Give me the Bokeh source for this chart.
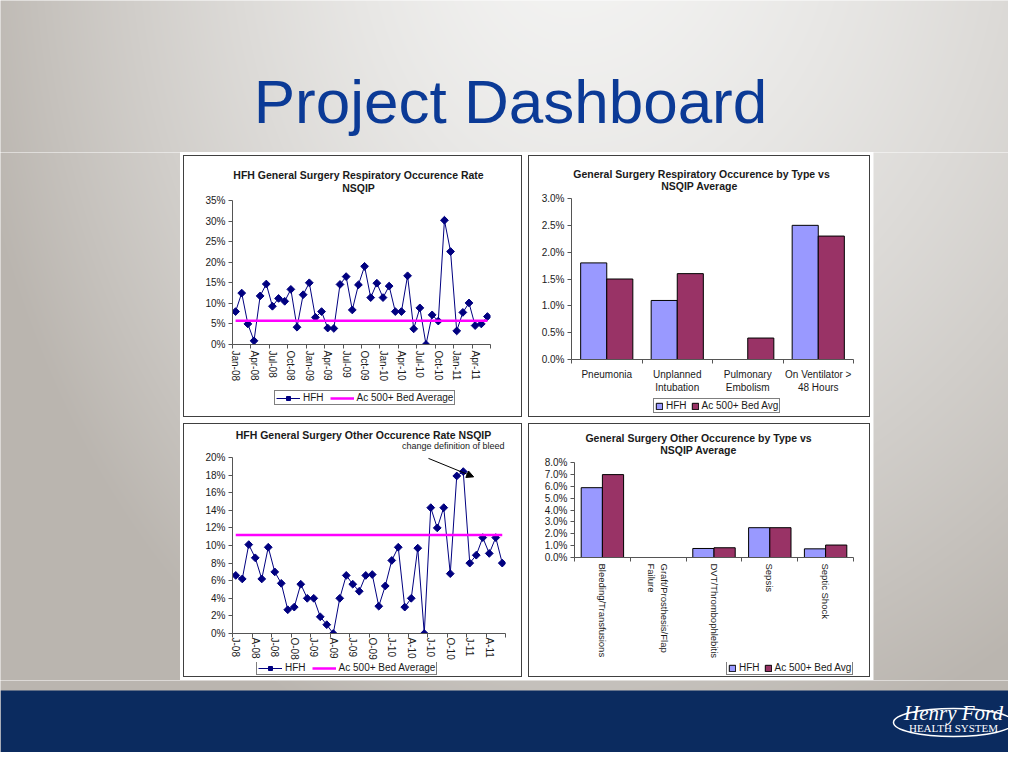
import numpy as np
from bokeh.plotting import figure
from bokeh.layouts import column, row
from bokeh.models import (Range1d, FixedTicker, NumeralTickFormatter, Legend, LegendItem,
                          Arrow, NormalHead)
from bokeh.embed import file_html
from bokeh.resources import INLINE
from bokeh.core.properties import value

FONT = "Liberation Sans"

# ---------------- data ----------------
months = ["Jan-08", "Feb-08", "Mar-08", "Apr-08", "May-08", "Jun-08", "Jul-08", "Aug-08", "Sep-08", "Oct-08", "Nov-08", "Dec-08",
          "Jan-09", "Feb-09", "Mar-09", "Apr-09", "May-09", "Jun-09", "Jul-09", "Aug-09", "Sep-09", "Oct-09", "Nov-09", "Dec-09",
          "Jan-10", "Feb-10", "Mar-10", "Apr-10", "May-10", "Jun-10", "Jul-10", "Aug-10", "Sep-10", "Oct-10", "Nov-10", "Dec-10",
          "Jan-11", "Feb-11", "Mar-11", "Apr-11", "May-11", "Jun-11"]

resp_tick_labels = ["Jan-08", "Apr-08", "Jul-08", "Oct-08", "Jan-09", "Apr-09", "Jul-09", "Oct-09",
                    "Jan-10", "Apr-10", "Jul-10", "Oct-10", "Jan-11", "Apr-11"]
other_tick_labels = ["J-08", "A-08", "J-08", "O-08", "J-09", "A-09", "J-09", "O-09",
                     "J-10", "A-10", "J-10", "O-10", "J-11", "A-11"]

resp_hfh = [0.080, 0.125, 0.050, 0.009, 0.118, 0.147, 0.093, 0.112, 0.105, 0.134, 0.042, 0.121,
            0.150, 0.066, 0.080, 0.040, 0.039, 0.146, 0.165, 0.084, 0.145, 0.190, 0.114, 0.149,
            0.114, 0.142, 0.080, 0.080, 0.167, 0.038, 0.089, 0.000, 0.072, 0.057, 0.302, 0.226,
            0.033, 0.078, 0.101, 0.046, 0.050, 0.068]
resp_avg = 0.058

other_hfh = [0.066, 0.062, 0.101, 0.086, 0.062, 0.098, 0.070, 0.057, 0.027, 0.030, 0.056, 0.040,
             0.040, 0.019, 0.010, 0.000, 0.040, 0.066, 0.056, 0.048, 0.066, 0.067, 0.031, 0.054,
             0.083, 0.098, 0.030, 0.040, 0.097, 0.000, 0.143, 0.120, 0.143, 0.068, 0.179, 0.184,
             0.080, 0.089, 0.109, 0.091, 0.109, 0.080]
other_avg = 0.112
bleed_note = "change definition of bleed"
bleed_arrow = (29.65, 0.199, 36.6, 0.178)   # x0, y0, x1, y1 in data units

resp_types = ["Pneumonia", "Unplanned\nIntubation", "Pulmonary\nEmbolism", "On Ventilator >\n48 Hours"]
resp_type_hfh = [0.018, 0.011, 0.000, 0.025]
resp_type_avg = [0.015, 0.016, 0.004, 0.023]

other_types = ["Bleeding/Transfusions", "Graft/Prosthesis/Flap\nFailure", "DVT/Thrombophlebitis",
               "Sepsis", "Septic Shock"]
other_type_hfh = [0.0588, 0.000, 0.0076, 0.0251, 0.0073]
other_type_avg = [0.0698, 0.000, 0.0082, 0.0251, 0.0105]

# ---------------- styles ----------------
NAVY = "#000080"
MAGENTA = "#FF00FF"
HFH_BAR = "#9999FF"
AVG_BAR = "#993366"
AXIS = "#555555"
TXT = "#1a1a1a"
BAND = "#0b2b5f"
TITLE_BLUE = "#0b3a96"
BOX = {"border": "1px solid #404040"}

LIGHT = np.array([244.0, 244.0, 243.0])
DARK = np.array([186.0, 181.0, 175.0])


def bg_image(x0, y0, x1, y1):
    xs = np.arange(x0, x1) + 0.5
    ys = np.arange(y1, y0, -1) - 0.5
    X, Y = np.meshgrid(xs, ys)
    sx = np.where(X < 570, 620.0, 800.0)
    d = np.sqrt(((X - 570) / sx) ** 2 + ((Y + 100) / 900) ** 2)
    t = np.clip(d, 0, 1) ** 1.5
    rgb = LIGHT[None, None, :] * (1 - t[..., None]) + DARK[None, None, :] * t[..., None]
    img = np.zeros((len(ys), len(xs)), dtype=np.uint32)
    view = img.view(dtype=np.uint8).reshape(len(ys), len(xs), 4)
    view[..., 0:3] = rgb.astype(np.uint8)
    view[..., 3] = 255
    return img


def bg_fig(x0, y0, x1, y1):
    p = figure(width=x1 - x0, height=y1 - y0, x_range=Range1d(x0, x1), y_range=Range1d(768 - y1, 768 - y0),
               output_backend="svg", toolbar_location=None, x_axis_location=None, y_axis_location=None,
               min_border=0, title=None)
    p.grid.visible = False
    p.outline_line_color = None
    pad = 3  # overdraw the edges so no light seam shows between strips
    p.image_rgba(image=[bg_image(x0 - pad, y0 - pad, x1 + pad, y1 + pad)], x=x0 - pad, y=768 - y1 - pad,
                 dw=x1 - x0 + 2 * pad, dh=y1 - y0 + 2 * pad)
    return p


def blank_fig(x0, x1, y0, y1, left, right):
    """Blank strip whose frame spans page x0..x1 (same side borders as its chart) and page y0..y1."""
    p = figure(width=left + (x1 - x0) + right, height=y1 - y0, x_range=Range1d(x0, x1),
               y_range=Range1d(768 - y1, 768 - y0), output_backend="svg", toolbar_location=None,
               x_axis_location=None, y_axis_location=None, title=None,
               min_border_left=left, min_border_right=right, min_border_top=0, min_border_bottom=0)
    p.grid.visible = False
    p.outline_line_color = None
    return p


def title_fig(x0, x1, y0, y1, left, right, lines):
    p = blank_fig(x0, x1, y0, y1, left, right)
    for text, cx, cy, size, style, align in lines:
        p.text(x=[cx], y=[768 - cy], text=[text], text_align=align, text_baseline="middle",
               text_font=value(FONT), text_font_style=style, text_font_size=size, text_color=TXT)
    return p


def legend_fig(x0, x1, y0, y1, left, right, kind, labels, loc):
    p = blank_fig(x0, x1, y0, y1, left, right)
    nan = [float("nan")]
    if kind == "line":
        l1 = p.line(nan, nan, line_color=NAVY, line_width=1)
        s1 = p.scatter(nan, nan, marker="square", angle=np.pi / 4, size=5.5, fill_color=NAVY, line_color=NAVY)
        l2 = p.line(nan, nan, line_color=MAGENTA, line_width=2.5)
        items = [LegendItem(label=labels[0], renderers=[l1, s1]), LegendItem(label=labels[1], renderers=[l2])]
        gw, gh, sp = 24, 10, 6
    else:
        r1 = p.vbar(x=nan, top=nan, width=0.3, fill_color=HFH_BAR, line_color="black")
        r2 = p.vbar(x=nan, top=nan, width=0.3, fill_color=AVG_BAR, line_color="black")
        items = [LegendItem(label=labels[0], renderers=[r1]), LegendItem(label=labels[1], renderers=[r2])]
        gw, gh, sp = 8, 8, 4
    p.add_layout(Legend(items=items, location=loc, orientation="horizontal", border_line_color="black",
                        border_line_width=1, background_fill_color="white", background_fill_alpha=1,
                        label_text_font=FONT, label_text_font_size="10px", label_text_color=TXT,
                        glyph_width=gw, glyph_height=gh, label_height=10, label_standoff=3,
                        spacing=sp, padding=1, margin=0))
    return p


def base_chart(w, h, left, right, top, bottom, x_range, y_range):
    p = figure(width=w, height=h, x_range=x_range, y_range=y_range, output_backend="svg",
               toolbar_location=None, min_border_left=left, min_border_right=right,
               min_border_top=top, min_border_bottom=bottom, title=None)
    p.grid.visible = False
    p.outline_line_color = None
    for ax in (p.xaxis[0], p.yaxis[0]):
        ax.axis_line_color = AXIS
        ax.major_tick_line_color = AXIS
        ax.minor_tick_line_color = AXIS
        ax.major_label_text_font = FONT
        ax.major_label_text_font_size = "10px"
        ax.major_label_text_color = TXT
        ax.axis_label_standoff = 0
    p.yaxis.major_tick_out = 4
    p.yaxis.major_tick_in = 0
    p.yaxis.minor_tick_out = 0
    p.yaxis.minor_tick_in = 0
    p.yaxis.major_label_standoff = 3
    p.xaxis.major_tick_out = 0
    p.xaxis.major_tick_in = 0
    p.xaxis.minor_tick_out = 4
    p.xaxis.minor_tick_in = 0
    return p


def line_chart(w, h, borders, series, avg, y_max, y_step, tick_labels, standoff):
    n = len(series)
    xs = list(range(n))
    p = base_chart(w, h, *borders, Range1d(-0.5, n - 0.5), Range1d(0, y_max))
    p.yaxis.ticker = FixedTicker(ticks=list(np.round(np.arange(0, y_max + 1e-9, y_step), 4)))
    p.yaxis.formatter = NumeralTickFormatter(format="0%")
    pos = list(range(0, n, 3))[:len(tick_labels)]
    p.xaxis.ticker = FixedTicker(ticks=pos, minor_ticks=[q - 0.5 for q in pos] + [n - 0.5])
    p.xaxis.major_label_overrides = {q: lab for q, lab in zip(pos, tick_labels)}
    p.xaxis.major_label_orientation = "vertical"
    p.xaxis.major_label_standoff = standoff
    p.line(xs, series, line_color=NAVY, line_width=1)
    p.scatter(xs, series, marker="square", angle=np.pi / 4, size=5.5, fill_color=NAVY, line_color=NAVY)
    p.line(xs, [avg] * n, line_color=MAGENTA, line_width=2.5)
    return p


def bar_chart(w, h, borders, cats, hfh, avg, y_max, y_step, orientation, standoff, bw, label_size="10px"):
    n = len(cats)
    p = base_chart(w, h, *borders, Range1d(0, n), Range1d(0, y_max))
    p.yaxis.ticker = FixedTicker(ticks=list(np.round(np.arange(0, y_max + 1e-9, y_step), 4)))
    p.yaxis.formatter = NumeralTickFormatter(format="0.0%")
    centers = [i + 0.5 for i in range(n)]
    p.xaxis.ticker = FixedTicker(ticks=centers, minor_ticks=list(range(n + 1)))
    p.xaxis.major_label_overrides = {c: lab for c, lab in zip(centers, cats)}
    p.xaxis.major_label_orientation = orientation
    p.xaxis.major_label_standoff = standoff
    p.xaxis.major_label_text_font_size = label_size
    p.vbar(x=[c - bw / 2 for c in centers], top=hfh, width=bw, fill_color=HFH_BAR,
           line_color="black", line_width=1)
    p.vbar(x=[c + bw / 2 for c in centers], top=avg, width=bw, fill_color=AVG_BAR,
           line_color="black", line_width=1)
    return p


def cell(*figs):
    return column(*figs, margin=3, styles=BOX)


B = "bold"
T = "10.5px"

# ---- top-left: inner page box 184..521 x 156..416 ; frame 232..490 x 200..346
L, R = 48, 31
tl_title = title_fig(232, 490, 156, 194, L, R,
                     [("HFH General Surgery Respiratory Occurence Rate", 358, 174, T, B, "center"),
                      ("NSQIP", 358, 187, T, B, "center")])
tl = line_chart(337, 190, (L, R, 6, 38), resp_hfh, resp_avg, 0.35, 0.05, resp_tick_labels, 2)
tl_leg = legend_fig(232, 490, 384, 416, L, R, "line", ["HFH", "Ac 500+ Bed Average"], (42, 11))

# ---- top-right: inner 529..869 x 156..416 ; frame 571..853 x 198..359
L, R = 42, 16
tr_title = title_fig(571, 853, 156, 192, L, R,
                     [("General Surgery Respiratory Occurence by Type vs", 701, 173, T, B, "center"),
                      ("NSQIP Average", 699, 185, T, B, "center")])
tr = bar_chart(340, 203, (L, R, 6, 36), resp_types, resp_type_hfh, resp_type_avg, 0.03, 0.005,
               "horizontal", 5, 0.37)
tr_leg = legend_fig(571, 853, 395, 416, L, R, "bar", ["HFH", "Ac 500+ Bed Avg"], (82, 3))

# ---- bottom-left: inner 184..521 x 424..676 ; frame 232..505 x 457..637
L, R = 48, 16
bl_title = title_fig(232, 505, 424, 451, L, R,
                     [("HFH General Surgery Other Occurence Rate NSQIP", 363, 434, T, B, "center"),
                      (bleed_note, 504, 445, "9px", "normal", "right")])
bl = line_chart(337, 211, (L, R, 6, 25), other_hfh, other_avg, 0.20, 0.02, other_tick_labels, 0)
bl.add_layout(Arrow(x_start=bleed_arrow[0], y_start=bleed_arrow[1], x_end=bleed_arrow[2], y_end=bleed_arrow[3],
                    line_color="black", line_width=1,
                    end=NormalHead(size=7, fill_color="black", line_color="black")))
bl_leg = legend_fig(232, 505, 662, 676, L, R, "line", ["HFH", "Ac 500+ Bed Average"], (24, 1))

# ---- bottom-right: inner 529..869 x 424..676 ; frame 574..853 x 462..557
L, R = 45, 16
br_title = title_fig(574, 853, 424, 456, L, R,
                     [("General Surgery Other Occurence by Type vs", 698, 437, T, B, "center"),
                      ("NSQIP Average", 698, 449, T, B, "center")])
br = bar_chart(340, 206, (L, R, 6, 105), other_types, other_type_hfh, other_type_avg, 0.08, 0.01,
               "vertical", 2, 0.38, "9.5px")
br_leg = legend_fig(574, 853, 662, 676, L, R, "bar", ["HFH", "Ac 500+ Bed Avg"], (152, 1))

grid = column(row(cell(tl_title, tl, tl_leg), cell(tr_title, tr, tr_leg)),
              row(cell(bl_title, bl, bl_leg), cell(br_title, br, br_leg)))

# ---------------- slide ----------------
top = bg_fig(0, 0, 1008, 152)
top.text(x=[510], y=[768 - 101], text=["Project Dashboard"], text_align="center", text_baseline="middle",
         text_font=value(FONT), text_font_size="62px", text_color=TITLE_BLUE)

left = bg_fig(0, 152, 180, 680)
right = bg_fig(873, 152, 1008, 680)

bottom = bg_fig(0, 680, 1008, 752)
bottom.quad(left=0, right=1008, bottom=768 - 752, top=768 - 690, fill_color=BAND, line_color=None)
bottom.ellipse(x=953, y=768 - 722, width=120, height=28, fill_alpha=0, line_color="white", line_width=1.5)
bottom.text(x=[953], y=[768 - 712], text=["Henry Ford"], text_align="center", text_baseline="middle",
            text_font=value("Liberation Serif"), text_font_style="italic", text_font_size="21px",
            text_color="white")
bottom.text(x=[953], y=[768 - 727], text=["HEALTH SYSTEM"], text_align="center", text_baseline="middle",
            text_font=value("Liberation Serif"), text_font_size="11px", text_color="white")

layout = column(top, row(left, grid, right), bottom)

open("out.html", "w").write(file_html(layout, INLINE))
